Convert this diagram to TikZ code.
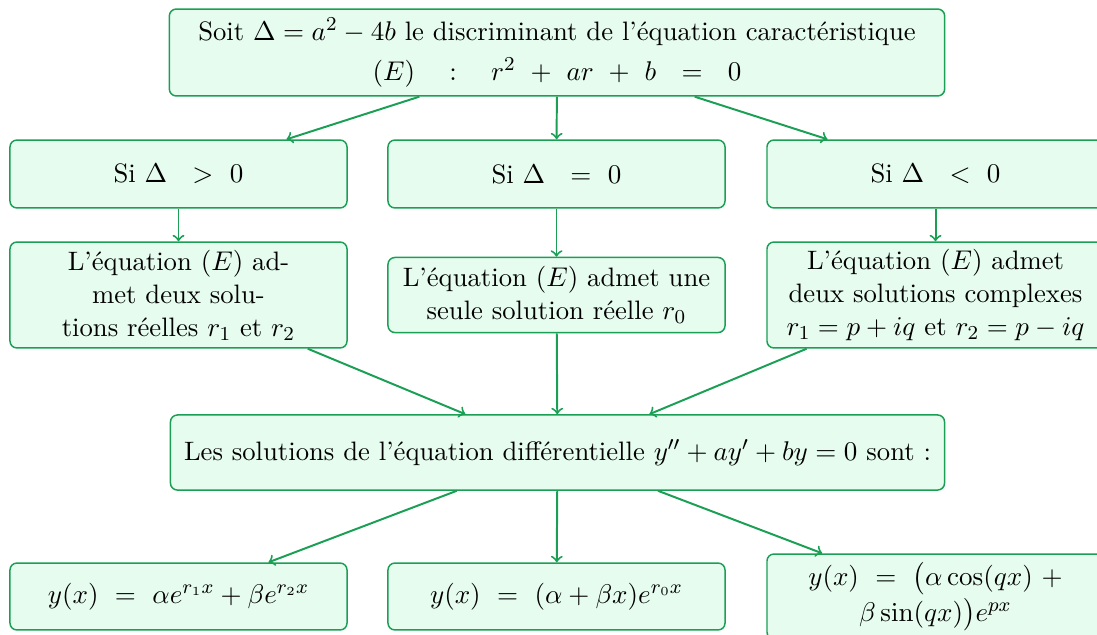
\documentclass[tikz,border=0pt]{standalone}
\usepackage{amsmath}
\usepackage{xcolor}
\usepackage{tikz}

\definecolor{boxgreen}{HTML}{1A9F55}
\definecolor{boxfill}{HTML}{E6FCEF}

\begin{document}
\begin{tikzpicture}[x=0.405pt,y=-0.405pt,
    box/.style={draw=boxgreen, fill=boxfill, rounded corners=2.8pt, line width=0.6pt,
        align=center, inner sep=2pt, minimum width=136.5pt,
        font=\fontsize{10.8pt}{13.4pt}\selectfont},
    arr/.style={->, draw=boxgreen, line width=0.8pt}]
    \useasboundingbox (0,0) rectangle (1097,634);
    % equation caracteristique
    \node[box, minimum width=314pt, minimum height=35.2pt] (carac) at (557,52.5)
        {Soit $\Delta = a^2 - 4b$ le discriminant de l'équation caractéristique\\[3pt]
         $(E)\quad:\quad r^2\ +\ ar\ +\ b\ \ =\ \ 0$};
    % les trois cas
    \node[box, minimum height=27.5pt] (pos) at (178.5,174) {Si $\Delta\ \ >\ 0$};
    \node[box, minimum height=27.5pt] (nul) at (556.5,174) {Si $\Delta\ \ =\ 0$};
    \node[box, minimum height=27.5pt] (neg) at (935.5,174) {Si $\Delta\ \ <\ 0$};
    \node[box, minimum height=42.9pt] (rpos) at (178.5,295)
        {L'équation $(E)$ ad-\\met deux solu-\\tions réelles $r_1$ et $r_2$};
    \node[box, minimum height=30.4pt] (rnul) at (556.5,295)
        {L'équation $(E)$ admet une\\seule solution réelle $r_0$};
    \node[box, minimum height=42.9pt] (rneg) at (935.5,295)
        {L'équation $(E)$ admet\\deux solutions complexes\\$r_1 = p + iq$ et $r_2 = p - iq$};
    % equation differentielle
    \node[box, minimum width=313.5pt, minimum height=30.4pt] (diff) at (557.5,452.5)
        {Les solutions de l'équation différentielle $y'' + ay' + by = 0$ sont :};
    % solutions
    \node[box, minimum height=27.1pt] (ypos) at (178.5,596.5)
        {$y(x)\ =\ \alpha e^{r_1x} + \beta e^{r_2x}$};
    \node[box, minimum height=27.1pt] (ynul) at (556.5,596.5)
        {$y(x)\ =\ (\alpha + \beta x)e^{r_0x}$};
    \node[box, minimum height=34.4pt] (yneg) at (935.5,596.5)
        {$y(x)\ =\ \big(\alpha\cos(qx)\ +$\\[1pt]$\beta\sin(qx)\big)e^{px}$};

    \draw[arr] (carac) -- (pos);
    \draw[arr] (carac) -- (nul);
    \draw[arr] (carac) -- (neg);
    \draw[arr] (pos) -- (rpos);
    \draw[arr] (nul) -- (rnul);
    \draw[arr] (neg) -- (rneg);
    \draw[arr] (rpos) -- (diff);
    \draw[arr] (rnul) -- (diff);
    \draw[arr] (rneg) -- (diff);
    \draw[arr] (diff) -- (ypos);
    \draw[arr] (diff) -- (ynul);
    \draw[arr] (diff) -- (yneg);
\end{tikzpicture}
\end{document}
